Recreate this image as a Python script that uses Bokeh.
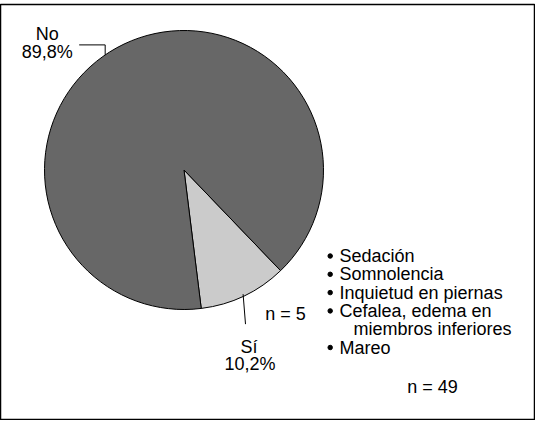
import math
from bokeh.plotting import figure
from bokeh.models import Range1d, ColumnDataSource
from bokeh.core.properties import value
from bokeh.embed import file_html
from bokeh.resources import INLINE

# ---- data ----
categories = ["Sí", "No"]
percents = [10.2, 89.8]
pct_labels = ["10,2%", "89,8%"]
colors = ["#cbcbcb", "#676767"]
effects = ["Sedación", "Somnolencia", "Inquietud en piernas", "Cefalea, edema en",
           "miembros inferiores", "Mareo"]
effect_bullet = [True, True, True, True, False, True]
n_si = 5
n_total = 49

FONT = value("Liberation Sans")
FS = "18px"

W, H, TOP = 535, 420, 4
p = figure(width=W, height=H, output_backend="svg", toolbar_location=None,
           x_range=Range1d(0, W), y_range=Range1d(0, H - TOP),
           min_border_left=0, min_border_right=0, min_border_bottom=0,
           min_border_top=TOP)
p.axis.visible = False
p.grid.visible = False
p.outline_line_color = "black"
p.outline_line_width = 1.5
p.background_fill_color = "white"
p.border_fill_color = "white"

# pie geometry
cx, cy, R = 183.5, 250.5, 139.5
start0 = math.radians(-82.9)
total = sum(percents)
starts, ends = [], []
a = start0
for v in percents:
    starts.append(a)
    a += v / total * 2 * math.pi
    ends.append(a)

src = ColumnDataSource(dict(start=starts, end=ends, color=colors))
p.wedge(x=cx, y=cy, radius=R, start_angle="start", end_angle="end",
        fill_color="color", line_color="black", line_width=1, source=src)

# Sí label with leader at mid-angle
mid_si = (starts[0] + ends[0]) / 2
x0 = cx + (R - 2) * math.cos(mid_si)
y0 = cy + (R - 2) * math.sin(mid_si)
p.line([x0, x0 + 2.4], [y0, y0 - 30], line_color="black", line_width=1)
p.text(x=[x0 + 6, x0 + 7], y=[y0 - 53, y0 - 70],
       text=[categories[0], pct_labels[0]], text_font=FONT, text_font_size=FS,
       text_align="center", text_baseline="middle", text_color="black")

# No label with elbow leader
mid_no = math.radians(124.4)
ex = cx + R * math.cos(mid_no)
ey = cy + R * math.sin(mid_no)
p.line([ex, ex, ex - 26], [ey, ey + 10, ey + 10], line_color="black", line_width=1)
p.text(x=[ex - 58, ex - 58], y=[ey + 21, ey + 3],
       text=[categories[1], pct_labels[1]], text_font=FONT, text_font_size=FS,
       text_align="center", text_baseline="middle", text_color="black")

# n = 5
p.text(x=[285], y=[107], text=[f"n = {n_si}"], text_font=FONT, text_font_size=FS,
       text_align="center", text_baseline="middle", text_color="black")

# effects list
ys = [164.5 - 18.3 * i for i in range(len(effects))]
txt_x = [339 if b else 353 for b in effect_bullet]
p.text(x=txt_x, y=ys, text=effects, text_font=FONT, text_font_size=FS,
       text_align="left", text_baseline="middle", text_color="black")
bx = [329.7 for b in effect_bullet if b]
by = [y for y, b in zip(ys, effect_bullet) if b]
p.scatter(x=bx, y=by, size=4.5, marker="circle", fill_color="black", line_color="black")

# n = 49
p.text(x=[432], y=[34], text=[f"n = {n_total}"], text_font=FONT, text_font_size=FS,
       text_align="center", text_baseline="middle", text_color="black")

open("out.html", "w").write(file_html(p, INLINE))
